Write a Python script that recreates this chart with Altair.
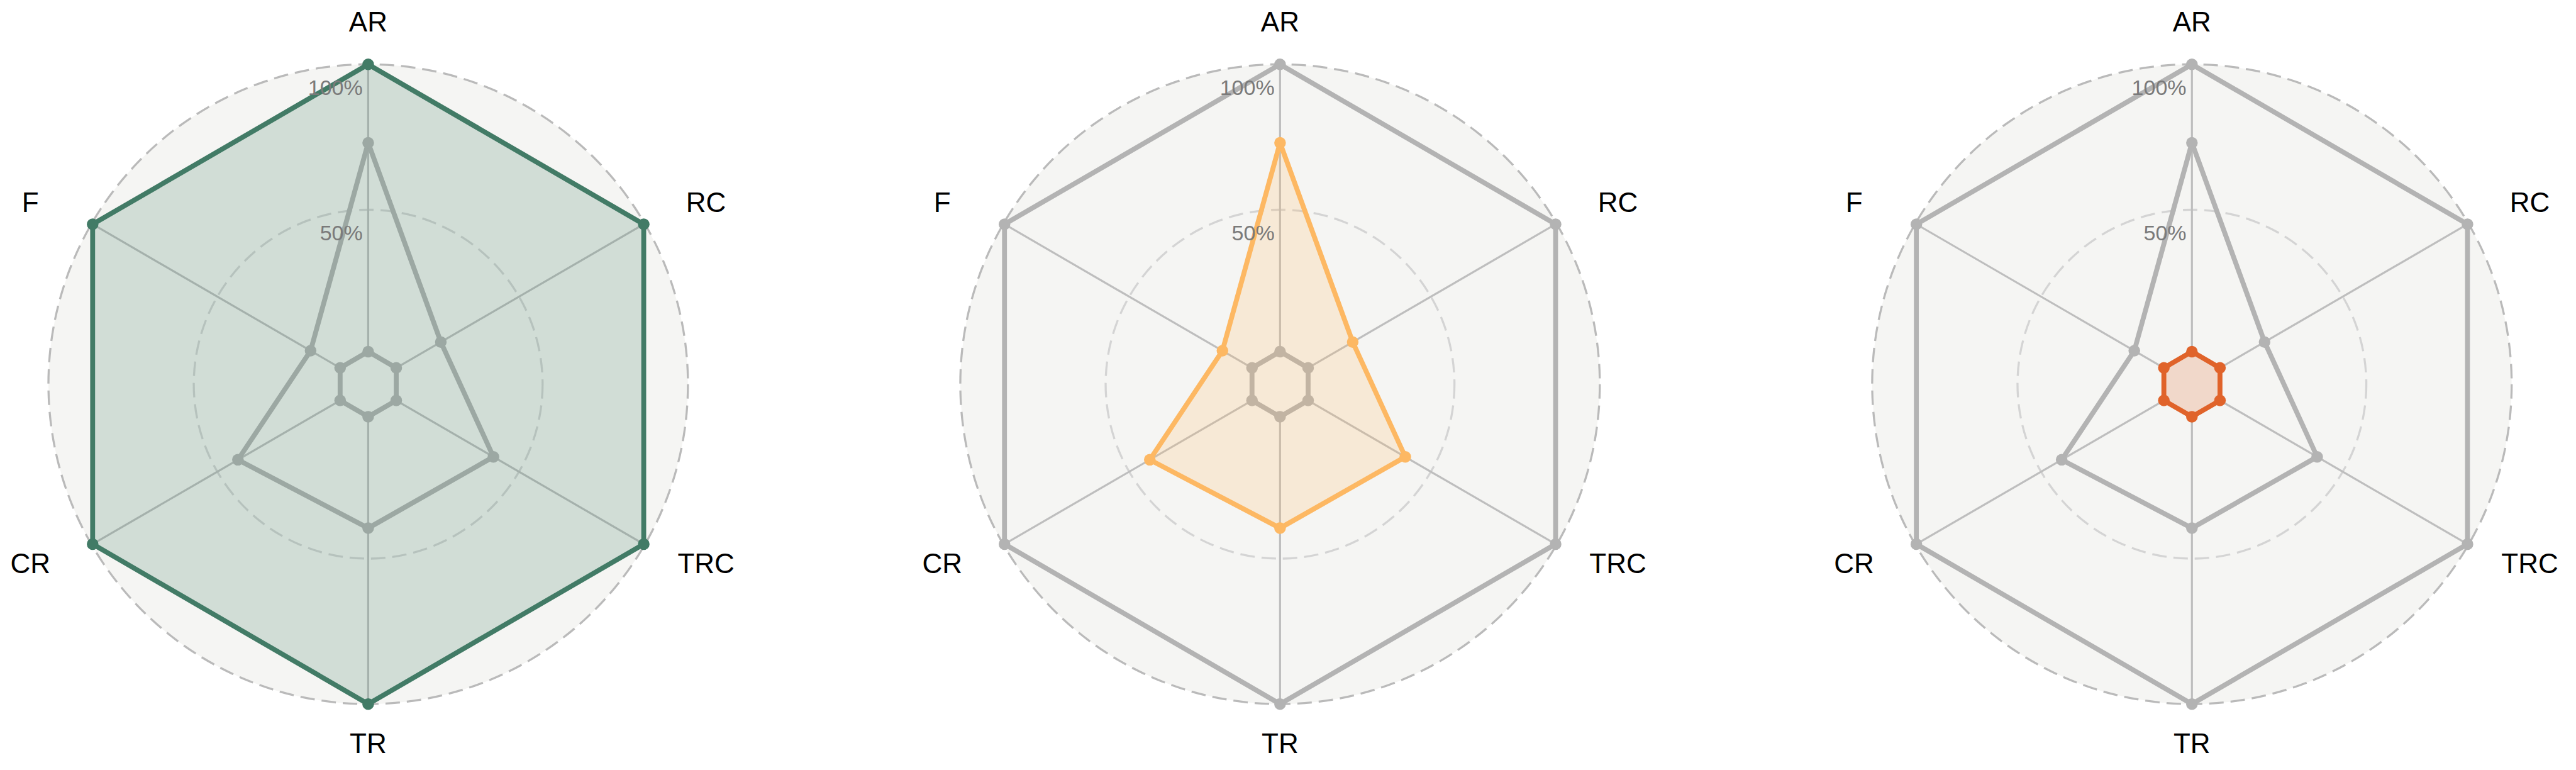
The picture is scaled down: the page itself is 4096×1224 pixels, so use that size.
import altair as alt
import pandas as pd

# ---------------- data ----------------
axis_names = ["AR", "RC", "TRC", "TR", "CR", "F"]
series_green = [100, 100, 100, 100, 100, 100]
series_orange = [73, 19, 40, 39.5, 42, 13]
series_red = [1.2, 1.2, 1.2, 1.2, 1.2, 1.2]
series_values = [series_green, series_orange, series_red]
series_colors = ["#427B66", "#FDB863", "#E0632A"]
grid_values = [0, 50, 100]
tick_values = [50, 100]
tick_texts = ["50%", "100%"]

# ---------------- geometry / style ----------------
S = 0.974
R = 522 * S            # radius of the 100% ring
RMIN = -10.0           # radial axis lower limit (inner hole)
GAP = 1496 * S         # distance between panel centres
W, H = 4060, 1200
CX = 604 * S - 8
CY = 627 * S - 8
x_dom = [-CX, W - CX]
y_dom = [-(H - CY), CY]
LX = 640 * S
LY = 589 * S
GRAY = "#B3B3B3"
LW = 7.8
PT = 18.5 ** 2

RAD = f"({R}*(datum.v-({RMIN}))/(100-({RMIN})))"
ANG = "(PI/2 - datum.k*PI/3)"


def X(f="px"):
    return alt.X(f"{f}:Q", scale=alt.Scale(domain=x_dom, nice=False, zero=False), axis=None)


def Y(f="py"):
    return alt.Y(f"{f}:Q", scale=alt.Scale(domain=y_dom, nice=False, zero=False), axis=None)


panels = [0, 1, 2]

poly_rows = []
for p in panels:
    for s, vals in enumerate(series_values):
        for k, v in enumerate(vals):
            poly_rows.append({"p": p, "s": s, "k": k, "v": v, "grp": f"{p}-{s}"})
poly_df = pd.DataFrame(poly_rows)

panel_df = pd.DataFrame({"p": panels})
ring_df = pd.DataFrame([{"p": p, "v": g} for p in panels for g in grid_values])
spoke_df = pd.DataFrame([{"p": p, "k": k} for p in panels for k in range(len(axis_names))])
label_df = pd.DataFrame([{"p": p, "k": k, "name": n} for p in panels for k, n in enumerate(axis_names)])
tick_df = pd.DataFrame([{"p": p, "v": v, "t": t} for p in panels for v, t in zip(tick_values, tick_texts)])

# background disk
bg = alt.Chart(panel_df).transform_calculate(
    px=f"datum.p*{GAP}", py="0"
).mark_point(shape="circle", filled=True, color="#F5F5F3", opacity=1, strokeWidth=0,
             size=(2 * R) ** 2).encode(x=X(), y=Y())

ring_base = alt.Chart(ring_df).transform_calculate(
    px=f"datum.p*{GAP}", py="0", sz=f"pow(2*{RAD},2)"
)
rings_inner = ring_base.transform_filter("datum.v < 100").mark_point(
    shape="circle", filled=False, color="#D4D4D4", opacity=1, strokeWidth=3.3,
    strokeDash=[23, 11]
).encode(x=X(), y=Y(), size=alt.Size("sz:Q", scale=None))
rings_outer = ring_base.transform_filter("datum.v == 100").mark_point(
    shape="circle", filled=False, color="#BABABA", opacity=1, strokeWidth=3.3,
    strokeDash=[23, 11]
).encode(x=X(), y=Y(), size=alt.Size("sz:Q", scale=None))

spokes = alt.Chart(spoke_df).transform_calculate(
    r0=f"{R}*(0-({RMIN}))/(100-({RMIN}))", r1=f"{R}",
    a=ANG,
).transform_calculate(
    px=f"datum.p*{GAP} + datum.r0*cos(datum.a)",
    py="datum.r0*sin(datum.a)",
    px2=f"datum.p*{GAP} + datum.r1*cos(datum.a)",
    py2="datum.r1*sin(datum.a)",
).mark_rule(color="#BEBEBE", strokeWidth=3.2).encode(
    x=X(), y=Y(), x2=alt.X2("px2:Q"), y2=alt.Y2("py2:Q")
)

poly_base = alt.Chart(poly_df).transform_calculate(
    r=RAD, a=ANG
).transform_calculate(
    px=f"datum.p*{GAP} + datum.r*cos(datum.a)",
    py="datum.r*sin(datum.a)",
)

gray_lines = poly_base.transform_filter("datum.p != datum.s").mark_line(
    color=GRAY, strokeWidth=LW, interpolate="linear-closed", strokeJoin="round"
).encode(x=X(), y=Y(), detail="grp:N", order="k:Q")
gray_pts = poly_base.transform_filter("datum.p != datum.s").mark_circle(
    color=GRAY, opacity=1, size=PT
).encode(x=X(), y=Y())

hi_layers = []
for s, c in enumerate(series_colors):
    sel = poly_base.transform_filter(f"datum.p == {s} && datum.s == {s}")
    hi_layers.append(sel.mark_line(
        color=c, fill=c, fillOpacity=0.2, strokeWidth=LW, interpolate="linear-closed",
        strokeJoin="round"
    ).encode(x=X(), y=Y(), detail="grp:N", order="k:Q"))
    hi_layers.append(sel.mark_circle(color=c, opacity=1, size=PT).encode(x=X(), y=Y()))

labels = alt.Chart(label_df).transform_calculate(
    a=ANG
).transform_calculate(
    px=f"datum.p*{GAP} + {LX}*cos(datum.a)",
    py=f"{LY}*sin(datum.a)",
).mark_text(fontSize=44, font="Liberation Sans", color="#000000", align="center",
            baseline="middle").encode(x=X(), y=Y(), text="name:N")

ticks = alt.Chart(tick_df).transform_calculate(
    px=f"datum.p*{GAP} - {9 * S}",
    py=f"{RAD} - {40 * S}",
).mark_text(fontSize=34, font="Liberation Sans", color="#7A7A7A", align="right",
            baseline="middle").encode(x=X(), y=Y(), text="t:N")

chart = alt.layer(
    bg, rings_inner, rings_outer, spokes, gray_lines, gray_pts, *hi_layers, labels, ticks
).properties(
    width=W, height=H,
    autosize=alt.AutoSizeParams(type="fit", contains="padding"),
    padding=0,
).configure_view(stroke=None)

chart.save("out.html", embed_options={"renderer": "svg", "actions": False})
